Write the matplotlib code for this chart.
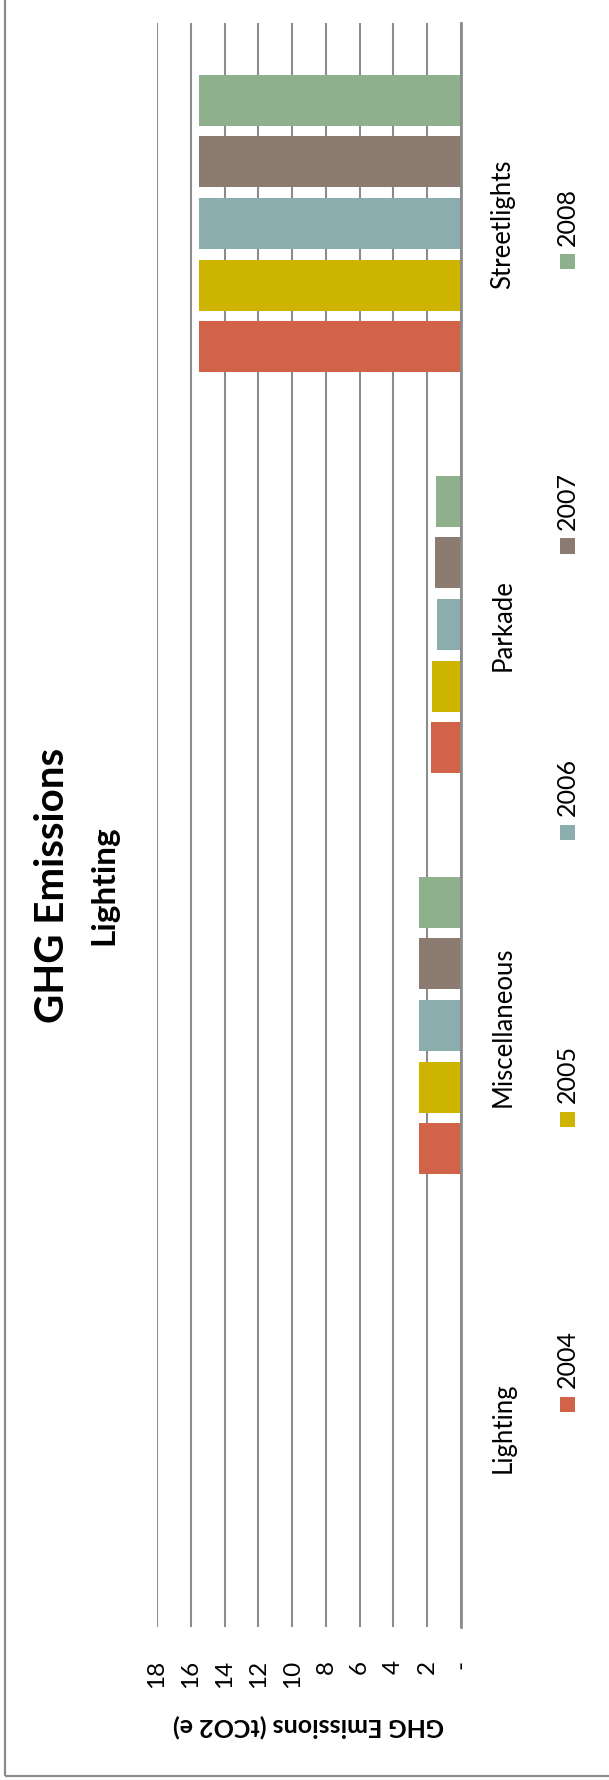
import matplotlib
matplotlib.use("Agg")
import matplotlib.pyplot as plt
from matplotlib.patches import Rectangle
import numpy as np

# Data
categories = ["Lighting", "Miscellaneous", "Parkade", "Streetlights"]
years = ["2004", "2005", "2006", "2007", "2008"]
emissions = {
    "2004": [0.0, 2.5, 1.75, 15.5],
    "2005": [0.0, 2.5, 1.70, 15.5],
    "2006": [0.0, 2.5, 1.40, 15.5],
    "2007": [0.0, 2.5, 1.55, 15.5],
    "2008": [0.0, 2.5, 1.50, 15.5],
}
colors = ["#D16349", "#CCB400", "#8CADAE", "#8C7B70", "#8FB08C"]
value_ticks = list(range(0, 19, 2))
value_labels = ["-"] + [str(v) for v in value_ticks[1:]]

FONT = "Lato"
W, H = 609, 1781
fig = plt.figure(figsize=(W / 100, H / 100), dpi=100)


def fx(px):
    return px / W


def fy(py):
    return 1 - py / H


# Outer chart frame
fig.patches.append(Rectangle((fx(5), fy(1777)), fx(700), fy(-20) - fy(1777),
                             transform=fig.transFigure, fill=False,
                             edgecolor="#8C8C8C", linewidth=1.6, zorder=0))

# Plot area (chart drawn rotated: value axis runs right-to-left)
left, right, top, bottom = 157, 461, 24, 1628
ax = fig.add_axes([fx(left), fy(bottom), fx(right) - fx(left), fy(top) - fy(bottom)])

n = len(years)
pitch = 0.1535
bar_h = 0.127
y = np.arange(len(categories))
for i, (yr, col) in enumerate(zip(years, colors)):
    ax.barh(y + (i - (n - 1) / 2) * pitch, emissions[yr], height=bar_h,
            color=col, edgecolor="none", zorder=3)

ax.set_xlim(18, 0)
ax.set_ylim(-0.5, len(categories) - 0.5)
ax.set_xticks(value_ticks)
ax.set_xticklabels(value_labels, rotation=90, fontsize=17.5, family=FONT)
ax.tick_params(axis="x", length=0, pad=23)
ax.xaxis.grid(True, color="#8C8C8C", linewidth=1.5, zorder=0)
ax.set_axisbelow(True)

ax.yaxis.tick_right()
ax.set_yticks(y)
ax.set_yticklabels(categories, rotation=90, fontsize=18.5, family=FONT, va="center")
ax.tick_params(axis="y", length=0, pad=21)

for s in ["top", "bottom", "left"]:
    ax.spines[s].set_visible(False)
ax.spines["right"].set_color("#8C8C8C")
ax.spines["right"].set_linewidth(2.0)
ax.spines["right"].set_zorder(4)

# Titles
fig.text(fx(53), fy(885), "GHG Emissions", rotation=90, ha="center", va="center",
         fontsize=29, fontweight="bold", family=FONT)
fig.text(fx(104), fy(885), "Lighting", rotation=90, ha="center", va="center",
         fontsize=24, fontweight="bold", family=FONT)

# Value axis title
fig.text(fx(309), fy(1726), "GHG Emissions (tCO2 e)", rotation=180, ha="center",
         va="center", fontsize=18, fontweight="bold", family=FONT)

# Legend (rotated)
legend_centers = [1405, 1120, 833, 547, 262]
sq = 15
for yr, col, cy in zip(years, colors, legend_centers):
    fig.patches.append(Rectangle((fx(560), fy(cy + sq / 2)), fx(sq), fy(0) - fy(sq),
                                 transform=fig.transFigure, facecolor=col,
                                 edgecolor="none"))
    fig.text(fx(567), fy(cy - sq / 2 - 9), yr, rotation=90, ha="center", va="bottom",
             fontsize=18, family=FONT)

fig.savefig("out.png", dpi=100, facecolor="white")
